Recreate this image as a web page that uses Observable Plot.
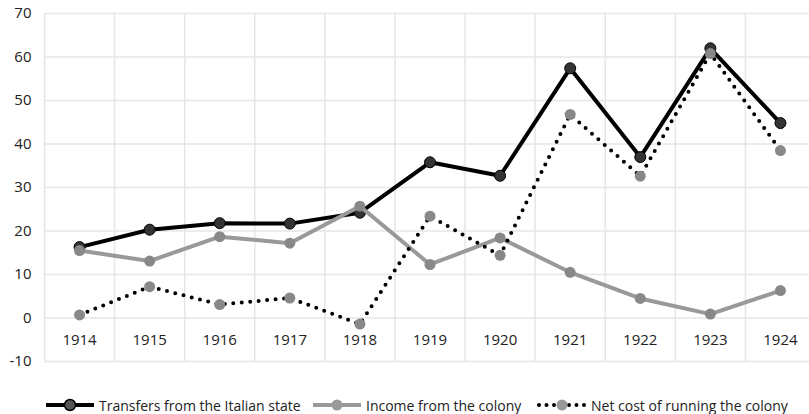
<!DOCTYPE html>
<html>
<head>
<meta charset="utf-8">
<script src="https://cdn.jsdelivr.net/npm/d3@7"></script>
<script src="https://cdn.jsdelivr.net/npm/@observablehq/plot@0.6"></script>
<style>
  html, body { margin: 0; padding: 0; background: #fff; overflow: hidden; width: 809px; height: 414px; }
  #chart { position: relative; width: 809px; height: 414px; font-family: "Open Sans", sans-serif; }
  #chart svg.plot { display: block; overflow: hidden; }
  .legend { position: absolute; top: 393px; left: 0; width: 809px; height: 24px; font-size: 14px; color: #222; }
  .item { position: absolute; top: 0; display: flex; align-items: center; height: 24px; }
  .item svg { margin-right: 4px; }
</style>
</head>
<body>
<div id="chart"></div>
<script>
const years = [1914, 1915, 1916, 1917, 1918, 1919, 1920, 1921, 1922, 1923, 1924];
const transfers = [16.3, 20.3, 21.8, 21.7, 24.2, 35.8, 32.7, 57.4, 37.0, 62.0, 44.8];
const income = [15.5, 13.1, 18.7, 17.2, 25.7, 12.3, 18.4, 10.5, 4.5, 0.9, 6.3];
const netCost = [0.7, 7.2, 3.1, 4.6, -1.4, 23.4, 14.4, 46.8, 32.6, 60.8, 38.5];
const yTicks = [-10, 0, 10, 20, 30, 40, 50, 60, 70];
const seriesNames = ["Transfers from the Italian state", "Income from the colony", "Net cost of running the colony"];

const tData = years.map((y, i) => ({year: y, value: transfers[i]}));
const iData = years.map((y, i) => ({year: y, value: income[i]}));
const nData = years.map((y, i) => ({year: y, value: netCost[i]}));
const bounds = [years[0] - 0.5, ...years.map(y => y + 0.5)];

const plot = Plot.plot({
  width: 809,
  height: 375,
  marginLeft: 44,
  marginRight: 0,
  marginTop: 13,
  marginBottom: 14,
  style: {fontFamily: "Open Sans, sans-serif", fontSize: "15px", color: "#222", background: "#fff"},
  x: {type: "linear", domain: [years[0] - 0.5, years[years.length - 1] + 0.5], range: [44, 815], axis: null},
  y: {domain: [-10, 70], ticks: yTicks},
  marks: [
    Plot.ruleY(yTicks, {stroke: "#e6e6e6", strokeWidth: 1.5}),
    Plot.ruleX(bounds, {stroke: "#e6e6e6", strokeWidth: 1.5, y1: -10, y2: 70}),
    Plot.axisY({ticks: yTicks, tickSize: 0, tickPadding: 13, tickFormat: d => String(d), fontSize: 15, label: null, fill: "#222"}),
    Plot.text(years, {x: d => d, y: -10, dy: -21, text: d => String(d), fontSize: 15, fill: "#222"}),
    Plot.line(tData, {x: "year", y: "value", stroke: "#000", strokeWidth: 4, strokeLinejoin: "round"}),
    Plot.dot(tData, {x: "year", y: "value", r: 5.5, fill: "#333", stroke: "#000", strokeWidth: 1}),
    Plot.line(iData, {x: "year", y: "value", stroke: "#999", strokeWidth: 4, strokeLinejoin: "round"}),
    Plot.dot(iData, {x: "year", y: "value", r: 5.5, fill: "#888"}),
    Plot.line(nData, {x: "year", y: "value", stroke: "#000", strokeWidth: 4, strokeDasharray: "0 8.5", strokeLinecap: "round"}),
    Plot.dot(nData, {x: "year", y: "value", r: 5.5, fill: "#888"})
  ]
});
plot.classList.add("plot");
const chart = document.getElementById("chart");
chart.appendChild(plot);

const legend = document.createElement("div");
legend.className = "legend";
const lefts = [45, 312, 537];
const swatches = [
  `<svg width="50" height="14"><line x1="1" y1="7" x2="49" y2="7" stroke="#000" stroke-width="4"/><circle cx="25" cy="7" r="5.5" fill="#555" stroke="#000" stroke-width="1.5"/></svg>`,
  `<svg width="50" height="14"><line x1="1" y1="7" x2="49" y2="7" stroke="#999" stroke-width="4"/><circle cx="25" cy="7" r="5.5" fill="#999"/></svg>`,
  `<svg width="50" height="14"><line x1="2" y1="7" x2="48" y2="7" stroke="#000" stroke-width="4" stroke-dasharray="0 7.5" stroke-linecap="round"/><circle cx="25" cy="7" r="5.5" fill="#999"/></svg>`
];
seriesNames.forEach((name, i) => {
  const it = document.createElement("div");
  it.className = "item";
  it.style.left = lefts[i] + "px";
  it.innerHTML = swatches[i] + `<span>${name}</span>`;
  legend.appendChild(it);
});
chart.appendChild(legend);
</script>
</body>
</html>
